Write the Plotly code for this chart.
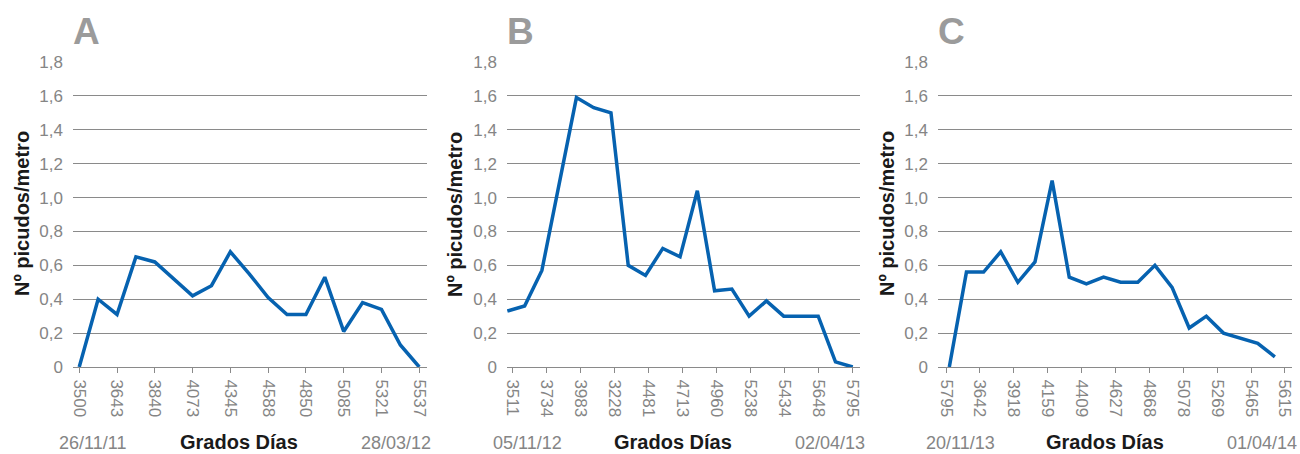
import numpy as np
import plotly.graph_objects as go

# panel A
ticks_a = ["3500", "3643", "3840", "4073", "4345", "4588", "4850", "5085", "5321", "5537"]
vals_a = [0, 0.40, 0.31, 0.65, 0.62, 0.52, 0.42, 0.48, 0.68, 0.55, 0.41, 0.31, 0.31, 0.53, 0.21, 0.38, 0.34, 0.13, 0]
dates_a = ["26/11/11", "28/03/12"]

# panel B
ticks_b = ["3511", "3734", "3983", "3228", "4481", "4713", "4960", "5238", "5434", "5648", "5795"]
vals_b = [0.33, 0.36, 0.57, 1.08, 1.59, 1.53, 1.50, 0.60, 0.54, 0.70, 0.65, 1.04, 0.45, 0.46, 0.30, 0.39, 0.30, 0.30, 0.30, 0.03, 0]
dates_b = ["05/11/12", "02/04/13"]

# panel C
ticks_c = ["5795", "3642", "3918", "4159", "4409", "4627", "4868", "5078", "5269", "5465", "5615"]
vals_c = [0, 0.56, 0.56, 0.68, 0.50, 0.62, 1.10, 0.53, 0.49, 0.53, 0.50, 0.50, 0.60, 0.47, 0.23, 0.30, 0.20, 0.17, 0.14, 0.06]
dates_c = ["20/11/13", "01/04/14"]

letters = ["A", "B", "C"]
y_ticks = [0, 0.2, 0.4, 0.6, 0.8, 1.0, 1.2, 1.4, 1.6, 1.8]
y_labels = ["0", "0,2", "0,4", "0,6", "0,8", "1,0", "1,2", "1,4", "1,6", "1,8"]

W, H = 1300, 454
BLUE = "#0662b0"
GRID = "#8a8a8a"
GREY_TXT = "#858585"
FONT = "Liberation Sans, Arial, sans-serif"

# layout per panel: plot left/right px, x range, tick positions, title x, date centers
panels = [
    dict(vals=vals_a, ticks=ticks_a, dates=dates_a, left=73, right=427,
         xr=[-0.33, 18.41], tv=np.arange(0, 19, 2), ytitle=22, d=[92, 239, 396]),
    dict(vals=vals_b, ticks=ticks_b, dates=dates_b, left=507, right=860,
         xr=[-0.02, 20.42], tv=np.linspace(0.31, 20, 11), ytitle=455, d=[527, 673, 830]),
    dict(vals=vals_c, ticks=ticks_c, dates=dates_c, left=938, right=1292,
         xr=[-0.66, 20.0], tv=np.linspace(-0.19, 19.59, 11), ytitle=887, d=[960, 1105, 1262]),
]

top_px, bot_px = 62, 367
ydom = [(H - bot_px) / H, (H - top_px) / H]

fig = go.Figure()
annotations = []

for i, p in enumerate(panels):
    n = "" if i == 0 else str(i + 1)
    fig.add_trace(go.Scatter(
        x=list(range(len(p["vals"]))), y=p["vals"], mode="lines",
        line=dict(color=BLUE, width=3.5), xaxis="x" + n, yaxis="y" + n,
        showlegend=False, hoverinfo="skip",
    ))
    fig.update_layout({
        "xaxis" + n: dict(
            domain=[p["left"] / W, p["right"] / W], range=p["xr"],
            tickmode="array", tickvals=list(p["tv"]), ticktext=p["ticks"],
            tickangle=90, ticks="outside", ticklen=5, tickcolor=GRID,
            showline=True, linecolor=GRID, linewidth=1, showgrid=False,
            zeroline=False, anchor="y" + n, ticklabelstandoff=3,
            automargin=False, fixedrange=True,
            tickfont=dict(family=FONT, size=17, color=GREY_TXT),
        ),
        "yaxis" + n: dict(
            domain=ydom, range=[0, 1.8], tickmode="array",
            tickvals=y_ticks, ticktext=y_labels, showgrid=True,
            gridcolor=GRID, gridwidth=1, zeroline=False, showline=False,
            anchor="x" + n, ticklabelstandoff=9,
            automargin=False, fixedrange=True,
            tickfont=dict(family=FONT, size=17, color=GREY_TXT),
        ),
    })
    # panel letter
    annotations.append(dict(
        text="<b>" + letters[i] + "</b>", x=p["left"] / W, y=(H - 31.5) / H,
        xref="paper", yref="paper", xanchor="left", yanchor="middle",
        showarrow=False, xshift=-2, font=dict(family=FONT, size=37, color="#9b9b9b"),
    ))
    # y title
    annotations.append(dict(
        text="<b>Nº picudos/metro</b>", x=p["ytitle"] / W, y=(H - 214) / H,
        xref="paper", yref="paper", xanchor="center", yanchor="middle",
        textangle=-90, showarrow=False,
        font=dict(family=FONT, size=20, color="#1a1a1a"),
    ))
    # bottom texts
    for txt, cx, bold in [(p["dates"][0], p["d"][0], False),
                          ("Grados Días", p["d"][1], True),
                          (p["dates"][1], p["d"][2], False)]:
        annotations.append(dict(
            text="<b>" + txt + "</b>" if bold else txt,
            x=cx / W, y=0, xref="paper", yref="paper",
            xanchor="center", yanchor="bottom", showarrow=False, borderpad=0,
            font=dict(family=FONT, size=20 if bold else 18,
                      color="#1a1a1a" if bold else GREY_TXT),
        ))

fig.update_layout(
    width=W, height=H, margin=dict(l=0, r=0, t=0, b=0, autoexpand=False),
    paper_bgcolor="white", plot_bgcolor="white",
    annotations=annotations,
)

fig.write_html(
    "out.html",
    config={"displayModeBar": False},
    post_script="document.body.style.margin='0';document.body.style.overflow='hidden';",
)
